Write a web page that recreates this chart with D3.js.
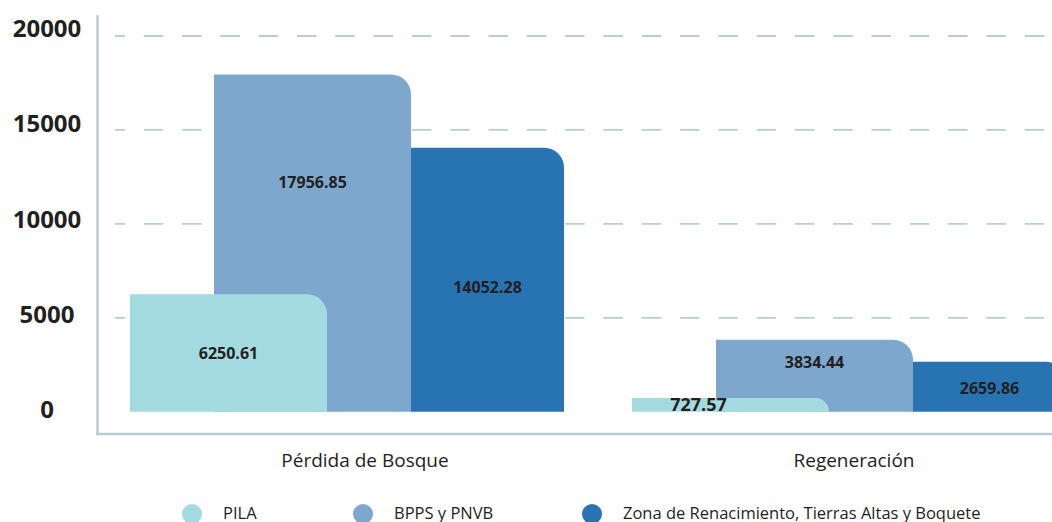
<!DOCTYPE html>
<head>
    <meta charset="utf-8">
    <script src="https://d3js.org/d3.v7.min.js"></script>
    <style>
      body { margin: 0; background: #fff; }
      text {
        font-family: "Open Sans", sans-serif;
        fill: #231f20;
      }
      .ticklabel { font-size: 24px; font-weight: 700; }
      .vallabel { font-size: 16px; font-weight: 700; }
      .catlabel { font-size: 19px; }
      .legendtext { font-size: 16.5px; }
    </style>
<body>
    <script>
        // data
        var categories = ["Pérdida de Bosque", "Regeneración"];
        var seriesNames = ["PILA", "BPPS y PNVB", "Zona de Renacimiento, Tierras Altas y Boquete"];
        var pilaValues = [6250.61, 727.57];
        var bppsValues = [17956.85, 3834.44];
        var zonaValues = [14052.28, 2659.86];
        var yTicks = [0, 5000, 10000, 15000, 20000];

        var colors = ["#a4dbe0", "#7ea7cd", "#2873b2"];
        // offset inside group, bar width, label height fraction
        var barLayout = [
          {dx: 0, w: 197, f: 0.5},
          {dx: 84, w: 197, f: 0.32},
          {dx: 281, w: 153, f: 0.53}
        ];
        var legendX = [192, 363, 592];

        var svg_w = 1052, svg_h = 522;
        var svg = d3.select("body")
          .append("svg")
          .attr("width", svg_w)
          .attr("height", svg_h);

        var y = d3.scaleLinear().domain([0, 20000]).range([411.7, 36]);
        var yLab = d3.scaleLinear().domain([0, 20000]).range([410, 29]);
        var x = d3.scaleBand().domain(categories).range([130, 1134]);
        var xLab = d3.scalePoint().domain(categories).range([365, 854]);

        // gridlines
        svg.selectAll(".grid").data(yTicks.filter(function(d){return d > 0;}))
          .enter().append("line")
          .attr("x1", 115).attr("x2", svg_w)
          .attr("y1", function(d){return y(d);})
          .attr("y2", function(d){return y(d);})
          .attr("stroke", "#b8cdd6")
          .attr("stroke-width", 1.8)
          .attr("stroke-dasharray", "19.5,18.8")
          .attr("stroke-dashoffset", 9.5);

        // y tick labels
        var yAxis = svg.append("g")
          .attr("transform", "translate(47,0)")
          .call(d3.axisLeft(yLab).tickValues(yTicks).tickSize(0).tickPadding(0).tickFormat(d3.format("d")));
        yAxis.select(".domain").remove();
        yAxis.selectAll("text")
          .attr("class", "ticklabel")
          .attr("text-anchor", "middle")
          .attr("fill", null)
          .attr("font-family", null)
          .attr("font-size", null);

        // axis lines
        svg.append("line")
          .attr("x1", 97.5).attr("x2", 97.5).attr("y1", 15).attr("y2", 435)
          .attr("stroke", "#b7ccd6").attr("stroke-width", 2.5);
        svg.append("line")
          .attr("x1", 96).attr("x2", svg_w).attr("y1", 434).attr("y2", 434)
          .attr("stroke", "#b7ccd6").attr("stroke-width", 2.5);

        function barPath(x0, y0, w, h, r) {
          r = Math.min(r, h, w);
          return "M" + x0 + "," + (y0 + h) +
            "L" + x0 + "," + y0 +
            "L" + (x0 + w - r) + "," + y0 +
            "A" + r + "," + r + " 0 0 1 " + (x0 + w) + "," + (y0 + r) +
            "L" + (x0 + w) + "," + (y0 + h) + "Z";
        }

        var allValues = [pilaValues, bppsValues, zonaValues];
        var barData = [];
        // back to front: Zona, BPPS, PILA
        [2, 1, 0].forEach(function(s) {
          categories.forEach(function(c, i) {
            barData.push({cat: c, s: s, v: allValues[s][i]});
          });
        });

        svg.selectAll(".bar").data(barData)
          .enter().append("path")
          .attr("class", "bar")
          .attr("fill", function(d){return colors[d.s];})
          .attr("d", function(d) {
            var L = barLayout[d.s];
            return barPath(x(d.cat) + L.dx, y(d.v), L.w, y(0) - y(d.v), 20);
          });

        svg.selectAll(".vallabel").data(barData)
          .enter().append("text")
          .attr("class", "vallabel")
          .attr("text-anchor", "middle")
          .attr("dy", "0.35em")
          .style("font-size", function(d){return d.v < 1000 ? "18px" : null;})
          .attr("x", function(d) {
            var L = barLayout[d.s];
            // small bars: label pushed left, as in the original
            var shift = d.v < 1000 ? -32 : 0;
            return x(d.cat) + L.dx + L.w / 2 + shift;
          })
          .attr("y", function(d) {
            var L = barLayout[d.s];
            return y(d.v) + (y(0) - y(d.v)) * L.f;
          })
          .text(function(d){return d3.format(".2f")(d.v);});

        // category labels
        svg.selectAll(".catlabel").data(categories)
          .enter().append("text")
          .attr("class", "catlabel")
          .attr("text-anchor", "middle")
          .attr("x", function(d){return xLab(d);})
          .attr("y", 466.7)
          .text(function(d){return d;});

        // legend
        var leg = svg.selectAll(".legend").data(seriesNames)
          .enter().append("g")
          .attr("transform", function(d, i){return "translate(" + legendX[i] + ",514)";});
        leg.append("circle").attr("r", 10).attr("fill", function(d, i){return colors[i];});
        leg.append("text").attr("class", "legendtext")
          .attr("x", 31).attr("y", 4.5)
          .text(function(d){return d;});
    </script>
</body>
